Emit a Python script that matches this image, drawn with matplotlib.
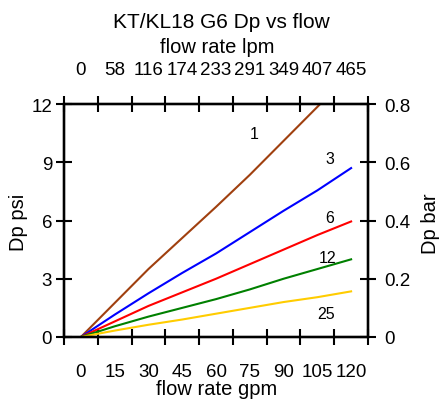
import numpy as np
import matplotlib.pyplot as plt

plt.rcParams['font.family'] = ['Liberation Sans', 'DejaVu Sans']

gpm = [0, 15, 30, 45, 60, 75, 90, 105, 120]
lpm_labels = ['0', '58', '116', '174', '233', '291', '349', '407', '465']
dp_1 = [0, 1.75, 3.5, 5.1, 6.7, 8.35, 10.1, 11.85, 13.6]
dp_3 = [0, 1.15, 2.25, 3.3, 4.3, 5.4, 6.5, 7.55, 8.7]
dp_6 = [0, 0.8, 1.6, 2.3, 3.0, 3.75, 4.5, 5.25, 5.95]
dp_12 = [0, 0.55, 1.05, 1.5, 1.95, 2.45, 3.0, 3.5, 4.0]
dp_25 = [0, 0.33, 0.63, 0.9, 1.2, 1.5, 1.8, 2.05, 2.35]
psi_ticks = [0, 3, 6, 9, 12]
bar_labels = ['0', '0.2', '0.4', '0.6', '0.8']

series = [
    (dp_1, '#a0400f', '1', (76.8, 10.5)),
    (dp_3, '#0000ff', '3', (110.6, 9.2)),
    (dp_6, '#ff0000', '6', (110.6, 6.15)),
    (dp_12, '#008000', '12', (109.6, 4.1)),
    (dp_25, '#ffcc00', '25', (108.8, 1.2)),
]

fig = plt.figure(figsize=(4.4, 4.02), dpi=100)
ax = fig.add_axes([64/440, 64/402, 304/440, 233/402])

for vals, col, lab, pos in series:
    ax.plot(gpm, vals, color=col, lw=1.5)
    ax.text(pos[0], pos[1], lab, fontsize=11.5, ha='center', va='center')

xlim = (-7.5, 127.5)
marks = np.arange(-7.5, 128, 15)
ax.set_xlim(*xlim)
ax.set_ylim(0, 12)

ax.set_xticks(gpm)
ax.set_xticks(marks, minor=True)
ax.set_yticks(psi_ticks)
ax.tick_params(axis='x', which='major', length=0, pad=19, labelsize=13.5)
ax.tick_params(axis='x', which='minor', direction='inout', length=11, width=1.5)
ax.tick_params(axis='y', direction='inout', length=11, width=1.5, pad=3, labelsize=13.5)

top = ax.twiny()
top.set_xlim(*xlim)
top.set_xticks(gpm)
top.set_xticklabels(lpm_labels)
top.set_xticks(marks, minor=True)
top.tick_params(axis='x', which='major', length=0, pad=19, labelsize=13.5)
top.tick_params(axis='x', which='minor', direction='inout', length=11, width=1.5)

right = ax.twinx()
right.set_ylim(0, 12)
right.set_yticks(psi_ticks)
right.set_yticklabels(bar_labels)
right.tick_params(axis='y', direction='inout', length=11, width=1.5, pad=6, labelsize=13.5)

for a in (ax, top, right):
    for s in a.spines.values():
        s.set_linewidth(1.6)

lab_size = 14.5
fig.text(217/440, 1 - 395/402, 'flow rate gpm', fontsize=lab_size, ha='center', va='baseline')
fig.text(19/440, 1 - 222/402, 'Dp psi', fontsize=lab_size, rotation=90, ha='center', va='center')
fig.text(430/440, 1 - 224/402, 'Dp bar', fontsize=lab_size, rotation=90, ha='center', va='center')

fig.text(221/440, 1 - 28/402, 'KT/KL18 G6 Dp vs flow', fontsize=15, ha='center', va='baseline')
fig.text(217/440, 1 - 53/402, 'flow rate lpm', fontsize=lab_size, ha='center', va='baseline')

fig.savefig('out.png', dpi=100)
